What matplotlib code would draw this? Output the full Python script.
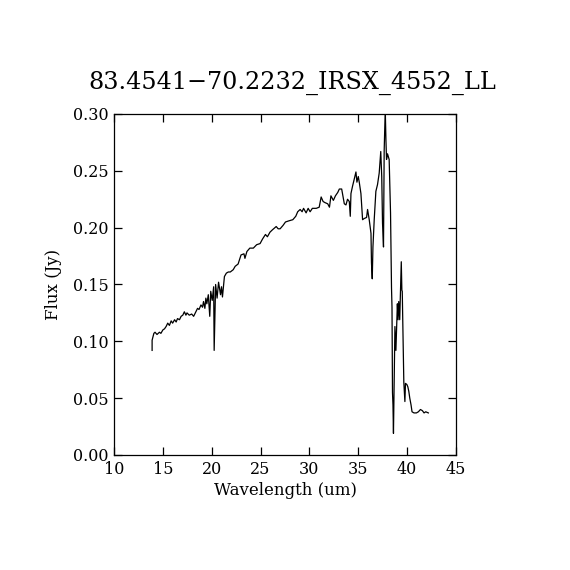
import matplotlib
matplotlib.use('Agg')
import matplotlib.pyplot as plt
from matplotlib.ticker import MultipleLocator, FormatStrFormatter

# spectrum
wavelength = [13.9, 13.9, 14.08, 14.2, 14.4, 14.65, 14.8, 15.0, 15.17, 15.33,
              15.5, 15.67, 15.85, 16.0, 16.2, 16.36, 16.5, 16.7, 16.87, 17.04,
              17.2, 17.36, 17.47, 17.7, 17.95, 18.15, 18.38, 18.55, 18.7, 18.9,
              19.06, 19.16, 19.3, 19.4, 19.5, 19.65, 19.8, 19.9, 20.05, 20.2,
              20.25, 20.4, 20.55, 20.7, 20.9, 21.0, 21.1, 21.3, 21.5, 21.7,
              21.9, 22.2, 22.4, 22.7, 22.85, 23.0, 23.3, 23.4, 23.6, 23.9,
              24.26, 24.6, 24.95, 25.2, 25.5, 25.7, 25.96, 26.2, 26.6, 26.8,
              27.0, 27.3, 27.55, 27.9, 28.3, 28.6, 28.8, 29.05, 29.25, 29.4,
              29.66, 29.87, 30.07, 30.3, 30.7, 31.0, 31.2, 31.4, 31.6, 31.87,
              32.05, 32.2, 32.45, 32.66, 32.9, 33.06, 33.3, 33.57, 33.74, 33.9,
              34.08, 34.18, 34.25, 34.4, 34.76, 34.86, 35.0, 35.1, 35.27, 35.44,
              35.6, 35.85, 35.95, 36.12, 36.3, 36.35, 36.43, 36.5, 36.63, 36.8,
              36.97, 37.14, 37.3, 37.4, 37.48, 37.58, 37.65, 37.76, 37.83, 37.89,
              37.99, 38.16, 38.3, 38.4, 38.45, 38.5, 38.55, 38.6, 38.75, 38.85,
              39.0, 39.07, 39.14, 39.24, 39.4, 39.46, 39.5, 39.6, 39.66, 39.77,
              39.83, 39.97, 40.07, 40.17, 40.27, 40.4, 40.5, 40.7, 40.95, 41.15,
              41.36, 41.56, 41.73, 41.9, 42.17]
flux = [0.092, 0.101, 0.107, 0.108, 0.106, 0.108, 0.107, 0.110, 0.111, 0.113,
        0.116, 0.114, 0.118, 0.116, 0.119, 0.117, 0.120, 0.119, 0.122, 0.123,
        0.126, 0.123, 0.125, 0.123, 0.124, 0.122, 0.126, 0.129, 0.128, 0.132,
        0.130, 0.135, 0.129, 0.138, 0.133, 0.141, 0.122, 0.144, 0.136, 0.148,
        0.092, 0.150, 0.138, 0.152, 0.141, 0.148, 0.139, 0.157, 0.160, 0.161,
        0.161, 0.163, 0.166, 0.168, 0.172, 0.176, 0.177, 0.173, 0.179, 0.182,
        0.182, 0.185, 0.186, 0.190, 0.194, 0.192, 0.196, 0.198, 0.201, 0.199,
        0.199, 0.202, 0.205, 0.206, 0.207, 0.210, 0.214, 0.216, 0.214, 0.217,
        0.213, 0.217, 0.214, 0.217, 0.217, 0.218, 0.227, 0.223, 0.222, 0.221,
        0.218, 0.228, 0.224, 0.228, 0.231, 0.234, 0.234, 0.221, 0.220, 0.225,
        0.223, 0.210, 0.230, 0.236, 0.249, 0.240, 0.245, 0.240, 0.230, 0.207,
        0.208, 0.209, 0.216, 0.207, 0.195, 0.169, 0.155, 0.183, 0.207, 0.232,
        0.238, 0.248, 0.267, 0.245, 0.204, 0.183, 0.268, 0.304, 0.277, 0.260,
        0.265, 0.260, 0.213, 0.147, 0.130, 0.055, 0.044, 0.019, 0.113, 0.092,
        0.133, 0.119, 0.135, 0.119, 0.170, 0.145, 0.144, 0.097, 0.064, 0.047,
        0.063, 0.062, 0.060, 0.056, 0.050, 0.044, 0.038, 0.037, 0.037, 0.038,
        0.040, 0.039, 0.037, 0.038, 0.037]

title = '83.4541\u221270.2232_IRSX_4552_LL'

plt.rcParams['font.family'] = ['DejaVu Serif']

fig = plt.figure(figsize=(5.7, 5.7), dpi=100)
ax = fig.add_axes([0.2, 0.2018, 0.6, 0.5982])
ax.plot(wavelength, flux, color='black', lw=0.9)

ax.set_xlim(10, 45)
ax.set_ylim(0, 0.30)
ax.xaxis.set_major_locator(MultipleLocator(5))
ax.yaxis.set_major_locator(MultipleLocator(0.05))
ax.yaxis.set_major_formatter(FormatStrFormatter('%.2f'))
ax.tick_params(direction='in', top=True, right=True, length=6, width=0.9,
               labelsize=11.5, pad=4)
for s in ax.spines.values():
    s.set_linewidth(0.9)

ax.set_xlabel('Wavelength (um)', fontsize=12, labelpad=3)
ax.set_ylabel('Flux (Jy)', fontsize=12, labelpad=8)
fig.text(0.513, 0.854, title, ha='center', va='center', fontsize=17.2)

fig.savefig('out.png', dpi=100)
